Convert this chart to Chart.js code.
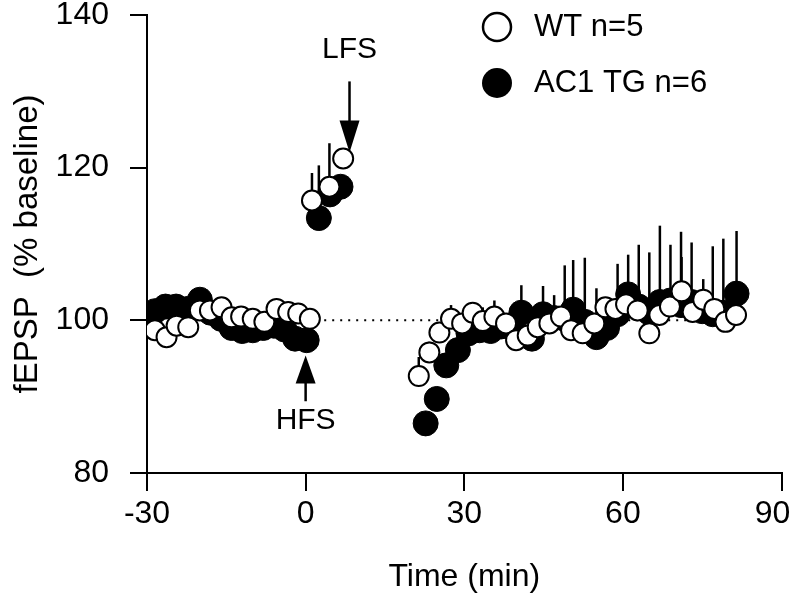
<!DOCTYPE html>
<html><head><meta charset="utf-8">
<script src="https://cdn.jsdelivr.net/npm/chart.js@4.4.1/dist/chart.umd.min.js"></script>
<style>html,body{margin:0;padding:0;background:#fff;}canvas{display:block;}</style>
</head><body>
<canvas id="c" width="795" height="598"></canvas>
<script>
// ---------- data ----------
const seriesNames = ['WT n=5', 'AC1 TG n=6'];

const wtTime  = [-28.5,-26.3,-24.4,-22.2,-20.0,-18.1,-15.9,-14.0,-12.2,-10.0,-7.8,-5.5,-3.3,-1.4,0.8,
                 1.2,4.5,7.1,
                 21.4,23.4,25.3,27.5,29.6,31.6,33.5,35.7,37.9,39.8,42.0,43.9,46.1,48.3,50.2,52.4,54.6,56.7,58.6,60.6,62.8,65.0,66.9,68.9,71.1,73.2,75.2,77.3,79.4,81.4];
const wtValue = [98.7,97.8,99.3,99.1,101.3,101.3,101.7,100.4,100.5,100.2,99.8,101.5,101.1,100.9,100.2,
                 115.7,117.5,121.2,
                 92.7,95.8,98.4,100.2,99.6,101.0,99.9,100.5,99.6,97.4,98.0,99.1,99.6,100.5,98.7,98.3,99.6,101.7,101.5,102.1,101.3,98.3,100.7,101.8,103.8,101.1,102.7,101.5,99.8,100.7];
const wtSem   = [0,0,0,0,0,0,0,0,0,0,0,0,0,0,0,
                 3.6,5.7,0,
                 2.5,1.4,0,1.8,0,1.4,1.8,2.1,0,0,0,0,0,0,0,0,0,0,0,0,0,0,0,0,4.5,0,2.7,0,0,0];

const tgTime  = [-28.5,-26.5,-24.5,-22.3,-20.0,-18.0,-16.0,-14.0,-12.0,-10.0,-8.0,-6.0,-4.0,-2.0,0.2,
                 2.5,4.6,6.6,
                 22.7,24.8,26.6,28.8,30.8,32.9,35.0,37.0,39.0,40.8,42.8,44.9,47.0,49.0,50.6,52.8,55.0,57.0,59.0,61.0,63.0,65.0,67.0,69.0,71.0,73.0,75.0,77.0,79.0,81.5];
const tgValue = [101.2,101.8,101.8,101.5,102.7,101.0,100.2,99.0,98.6,98.7,99.0,99.3,98.8,97.6,97.4,
                 113.4,116.5,117.5,
                 86.5,89.7,94.1,96.1,98.3,98.7,98.6,99.2,99.0,101.0,97.6,100.8,100.3,100.2,101.4,99.8,97.8,99.0,100.8,103.4,101.8,101.0,102.4,102.6,102.0,102.4,101.2,100.8,101.0,103.5];
const tgSem   = [0,0,0,0,0,0,0,0,0,0,0,0,0,0,0,
                 6.9,0,0,
                 0,0,0,0,0,0,0,0,0,3.6,0,3.7,3.0,7.0,6.5,8.4,6.4,0,6.6,5.2,8.1,7.9,10.0,7.3,9.6,7.8,0,8.9,9.7,8.2];

const xTicks = [-30, 0, 30, 60, 90];
const yTicks = [80, 100, 120, 140];
const baselineLevel = 100;
const baselineSpan = [2, 82];
const xTitle = 'Time (min)';
const yTitle = 'fEPSP  (% baseline)';
const markerLabels = ['HFS', 'LFS'];
const markerTimes  = [0, 8.3];

// ---------- helpers ----------
const FONT = "'Liberation Sans', Arial, Helvetica, sans-serif";
const toPts = (t, v) => t.map((x, i) => ({x: x, y: v[i]}));

const errorBars = {
  id: 'errorBars',
  beforeDatasetsDraw(chart) {
    const {ctx, scales: {x, y}} = chart;
    ctx.save();
    ctx.strokeStyle = '#000';
    ctx.lineWidth = 2.5;
    chart.data.datasets.forEach(ds => {
      if (!ds.sem) return;
      ds.data.forEach((p, i) => {
        const e = ds.sem[i];
        if (!e) return;
        const px = x.getPixelForValue(p.x);
        ctx.beginPath();
        ctx.moveTo(px, y.getPixelForValue(p.y));
        ctx.lineTo(px, y.getPixelForValue(p.y + e));
        ctx.stroke();
      });
    });
    ctx.restore();
  }
};

const markers = {
  id: 'markers',
  afterDatasetsDraw(chart) {
    const {ctx, scales: {x, y}} = chart;
    ctx.save();
    ctx.fillStyle = '#000';
    ctx.strokeStyle = '#000';
    ctx.lineWidth = 2.5;
    ctx.font = '30px ' + FONT;
    ctx.textAlign = 'center';
    ctx.textBaseline = 'middle';
    // HFS: arrow pointing up from below
    {
      const px = x.getPixelForValue(markerTimes[0]);
      const tip = y.getPixelForValue(95.4);
      const tail = y.getPixelForValue(89.4);
      ctx.beginPath(); ctx.moveTo(px, tip + 20); ctx.lineTo(px, tail); ctx.stroke();
      ctx.beginPath(); ctx.moveTo(px, tip); ctx.lineTo(px - 10, tip + 28); ctx.lineTo(px + 10, tip + 28); ctx.closePath(); ctx.fill();
      ctx.fillText(markerLabels[0], px, y.getPixelForValue(86.8));
    }
    // LFS: arrow pointing down from above
    {
      const px = x.getPixelForValue(markerTimes[1]);
      const tip = y.getPixelForValue(122.0);
      const tail = y.getPixelForValue(131.3);
      ctx.beginPath(); ctx.moveTo(px, tip - 20); ctx.lineTo(px, tail); ctx.stroke();
      ctx.beginPath(); ctx.moveTo(px, tip); ctx.lineTo(px - 10, tip - 32); ctx.lineTo(px + 10, tip - 32); ctx.closePath(); ctx.fill();
      ctx.fillText(markerLabels[1], px, y.getPixelForValue(135.5));
    }
    ctx.restore();
  }
};

const legendBox = {
  id: 'legendBox',
  afterDraw(chart) {
    const {ctx} = chart;
    ctx.save();
    ctx.font = '31px ' + FONT;
    ctx.textAlign = 'left';
    ctx.textBaseline = 'middle';
    ctx.lineWidth = 2.5;
    // WT
    ctx.beginPath(); ctx.arc(497, 27, 14, 0, Math.PI * 2);
    ctx.fillStyle = '#fff'; ctx.fill(); ctx.strokeStyle = '#000'; ctx.stroke();
    ctx.fillStyle = '#000';
    ctx.fillText(seriesNames[0], 534, 27);
    // TG
    ctx.beginPath(); ctx.arc(497, 83, 15, 0, Math.PI * 2);
    ctx.fillStyle = '#000'; ctx.fill();
    ctx.fillText(seriesNames[1], 534, 83);
    ctx.restore();
  }
};

new Chart(document.getElementById('c'), {
  type: 'scatter',
  data: {
    datasets: [
      {
        label: seriesNames[0],
        data: toPts(wtTime, wtValue),
        sem: wtSem,
        pointRadius: 10, pointHoverRadius: 10,
        pointBackgroundColor: '#fff', pointBorderColor: '#000', pointBorderWidth: 2,
        showLine: false, order: 0
      },
      {
        label: seriesNames[1],
        data: toPts(tgTime, tgValue),
        sem: tgSem,
        pointRadius: 12.5, pointHoverRadius: 12.5,
        pointBackgroundColor: '#000', pointBorderColor: '#000', pointBorderWidth: 1,
        showLine: false, order: 1
      },
      {
        label: 'baseline',
        type: 'line',
        data: baselineSpan.map(t => ({x: t, y: baselineLevel})),
        borderColor: '#000', borderWidth: 2, borderDash: [2, 6],
        pointRadius: 0, fill: false, order: 2
      }
    ]
  },
  options: {
    responsive: false,
    animation: false,
    devicePixelRatio: 1,
    layout: {padding: {top: 15, right: 13, left: 0, bottom: 0}},
    plugins: {legend: {display: false}, tooltip: {enabled: false}},
    scales: {
      x: {
        type: 'linear', position: 'bottom', min: -30, max: 90,
        afterBuildTicks: s => { s.ticks = xTicks.map(v => ({value: v})); },
        afterFit: s => { s.height = 125; s.paddingLeft = 0; s.paddingRight = 0; },
        border: {display: true, color: '#000', width: 2},
        grid: {drawOnChartArea: false, drawTicks: true, tickLength: 18, color: '#000', lineWidth: 2},
        ticks: {color: '#000', font: {family: FONT, size: 32}, padding: 4, maxRotation: 0, autoSkip: false,
                callback: v => v === xTicks[xTicks.length - 1] ? v + '  ' : String(v)},
        title: {display: true, text: xTitle, color: '#000', font: {family: FONT, size: 32}, padding: {top: 0, bottom: 2}}
      },
      y: {
        type: 'linear', position: 'left', min: 80, max: 140,
        afterBuildTicks: s => { s.ticks = yTicks.map(v => ({value: v})); },
        afterFit: s => { s.width = 147; s.paddingTop = 0; s.paddingBottom = 0; },
        border: {display: true, color: '#000', width: 2},
        grid: {drawOnChartArea: false, drawTicks: true, tickLength: 17, color: '#000', lineWidth: 2},
        ticks: {color: '#000', font: {family: FONT, size: 32}, padding: 21, autoSkip: false},
        title: {display: true, text: yTitle, color: '#000', font: {family: FONT, size: 33}, padding: {top: 8, bottom: 0}}
      }
    }
  },
  plugins: [errorBars, markers, legendBox]
});
</script>
</body></html>
